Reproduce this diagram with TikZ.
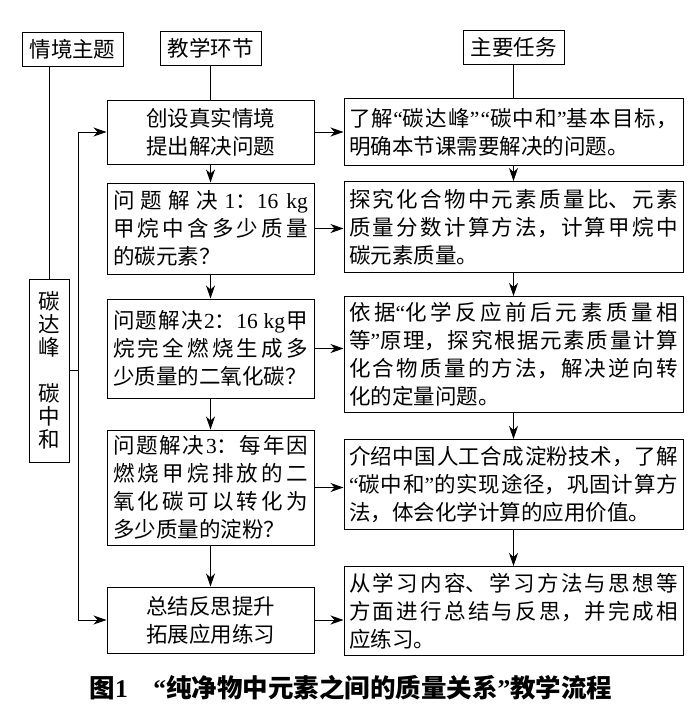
\documentclass[tikz,border=0pt]{standalone}
\usepackage{fontspec}
\setmainfont{Noto Sans CJK SC}
\newfontfamily\latfont{Liberation Serif}
\usetikzlibrary{positioning,arrows.meta}
\XeTeXlinebreaklocale "zh"
\XeTeXlinebreakskip=0pt plus 6pt
\newcommand{\lat}[1]{{\latfont #1}}
\newcommand{\qo}{{\latfont “}}
\newcommand{\qc}{{\latfont ”}}
\newcommand{\gap}{\hskip 0pt plus 6pt}

\begin{document}
\begin{tikzpicture}[
    x=1pt, y=1pt,
    font=\fontsize{21.5}{28}\selectfont,
    line width=1pt,
    box/.style={rectangle, draw, inner xsep=6pt, inner ysep=0pt},
    stagebox/.style={box, text width=195pt, align=justify},
    stagecenter/.style={box, minimum width=207pt, align=center},
    taskbox/.style={box, text width=329pt, inner xsep=5pt, align=justify},
    hdr/.style={box, minimum width=101pt, minimum height=34pt, inner xsep=4pt},
    arrow/.style={-{Stealth[length=13pt, width=9pt, inset=4pt]}}
]
\useasboundingbox (0,0) rectangle (700,-710);

\node[stagecenter, minimum height=64pt] (create) at (210.5,-132) {创设真实情境\\提出解决问题};
\node[stagebox, minimum height=91pt, below=18pt of create] (solve1) {问题解决\gap\lat{1}：\lat{16 kg}\linebreak 甲烷中含多少质量\linebreak 的碳元素？};
\node[stagebox, minimum height=99pt, below=24pt of solve1] (solve2) {问题解决\gap\lat{2}：\lat{16 kg}\gap 甲\linebreak 烷完全燃烧生成多\linebreak 少质量的二氧化碳？};
\node[stagebox, minimum height=115pt, below=31pt of solve2] (solve3) {问题解决\gap\lat{3}：每年因\linebreak 燃烧甲烷排放的二\linebreak 氧化碳可以转化为\linebreak 多少质量的淀粉？};
\node[stagecenter, minimum height=66pt, below=41pt of solve3] (summary) {总结反思提升\\拓展应用练习};

\node[taskbox, minimum height=67pt, right=29pt of create] (intro) {了解\qo 碳达峰\qc\qo 碳中和\qc 基本目标，\linebreak 明确本节课需要解决的问题。};
\node[taskbox, minimum height=91pt, below=15pt of intro] (ratio) {探究化合物中元素质量比、元素\linebreak 质量分数计算方法，计算甲烷中\linebreak 碳元素质量。};
\node[taskbox, minimum height=116pt, below=23pt of ratio] (mass) {依据\qo 化学反应前后元素质量相\linebreak 等\qc 原理，探究根据元素质量计算\linebreak 化合物质量的方法，解决逆向转\linebreak 化的定量问题。};
\node[taskbox, minimum height=90pt, below=26pt of mass] (starch) {介绍中国人工合成淀粉技术，了解\linebreak \qo 碳中和\qc 的实现途径，巩固计算方\linebreak 法，体会化学计算的应用价值。};
\node[taskbox, minimum height=89pt, below=36pt of starch] (review) {从学习内容、学习方法与思想等\linebreak 方面进行总结与反思，并完成相\linebreak 应练习。};

\node[box, font=\fontsize{21.5}{23}\selectfont, align=center, minimum width=40pt, minimum height=183pt] (theme) at (49,-370.5) {碳\\达\\峰\\[23pt]碳\\中\\和};

\node[hdr] (hdrtheme) at (72.5,-49) {情境主题};
\node[hdr, above=34pt of create] (hdrstage) {教学环节};
\node[hdr, above=33pt of intro] (hdrtask) {主要任务};

\draw (hdrtheme.south -| theme.north) -- (theme.north);
\draw (hdrstage) -- (create);
\draw (hdrtask) -- (intro);

\draw[arrow] (theme.east) -- ++(9,0) |- (create.west);
\draw[arrow] (theme.east) -- ++(9,0) |- (summary.west);

\draw[arrow] (create) -- (solve1);
\draw[arrow] (solve1) -- (solve2);
\draw[arrow] (solve2) -- (solve3);
\draw[arrow] (solve3) -- (summary);

\draw[arrow] (intro) -- (ratio);
\draw[arrow] (ratio) -- (mass);
\draw[arrow] (mass) -- (starch);
\draw[arrow] (starch) -- (review);

\draw[arrow] (create.east) -- (create.east -| intro.west);
\draw[arrow] (solve1.east) -- (solve1.east -| ratio.west);
\draw[arrow] (solve2.east) -- (solve2.east -| mass.west);
\draw[arrow] (solve3.east) -- (solve3.east -| starch.west);
\draw[arrow] (summary.east) -- (summary.east -| review.west);

\node[font=\fontsize{25.5}{28}\selectfont\bfseries] (caption) at (351,-688) {图\lat{1}\quad\qo 纯净物中元素之间的质量关系\qc 教学流程};
\end{tikzpicture}
\end{document}
